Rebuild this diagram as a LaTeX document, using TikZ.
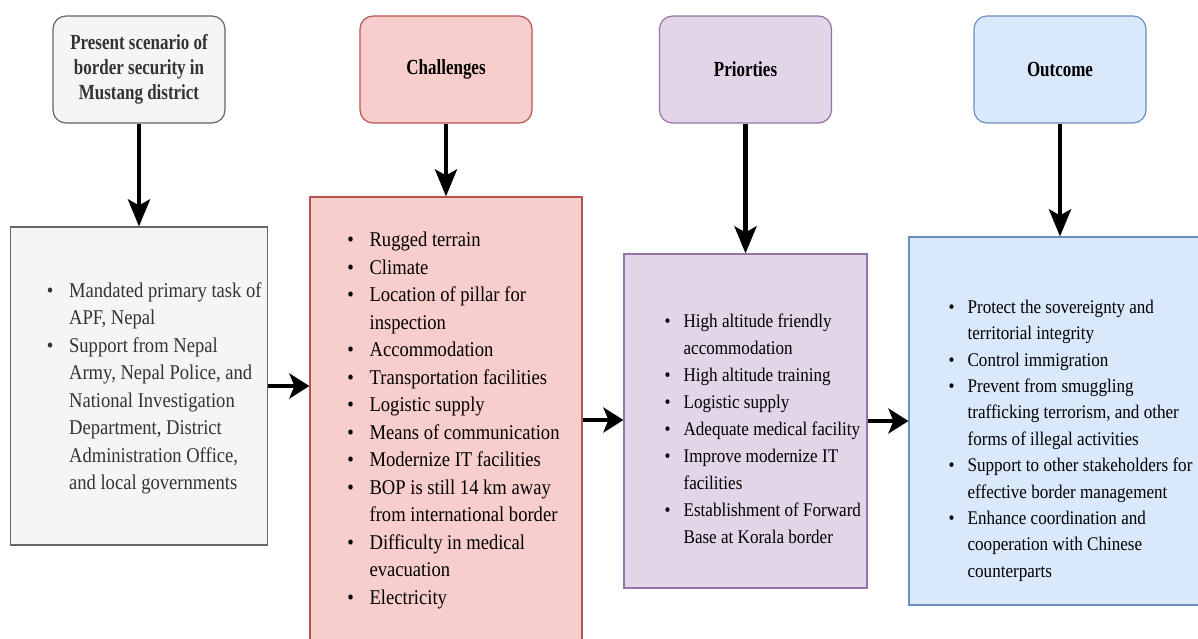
\documentclass[tikz,border=0pt]{standalone}
\usepackage{fontspec}
\setmainfont{Liberation Serif}
\newfontfamily\bodyfont{Liberation Serif}[FakeStretch=0.885]
\newfontfamily\headfont{Liberation Serif}[FakeStretch=0.79]
\usetikzlibrary{arrows.meta,calc}
\definecolor{grayfill}{HTML}{F5F5F5}
\definecolor{graydraw}{HTML}{666666}
\definecolor{graytext}{HTML}{333333}
\definecolor{redfill}{HTML}{F8CECC}
\definecolor{reddraw}{HTML}{B85450}
\definecolor{purfill}{HTML}{E1D5E7}
\definecolor{purdraw}{HTML}{9673A6}
\definecolor{bluefill}{HTML}{DAE8FC}
\definecolor{bluedraw}{HTML}{6C8EBF}
\newlength\bulw
\newcommand\B{\makebox[\bulw][c]{\textbullet}}
\begin{document}
\begin{tikzpicture}[x=1pt,y=-1pt,
  hdr/.style={draw, rounded corners=13pt, minimum width=172pt, minimum height=107pt,
    line width=1.2pt, inner sep=0pt, align=center,
    font={\headfont\bfseries\fontsize{21.5}{25}\selectfont}},
  cbox/.style={draw, line width=1.2pt, inner sep=0pt},
  bigtxt/.style={anchor=west, inner sep=0pt, font={\bodyfont\fontsize{21}{27.5}\selectfont\setlength\bulw{38pt}}},
  purtxt/.style={anchor=west, inner sep=0pt, font={\bodyfont\fontsize{19.3}{27}\selectfont\setlength\bulw{32pt}}},
  bluetxt/.style={anchor=west, inner sep=0pt, font={\bodyfont\fontsize{19.3}{26.4}\selectfont\setlength\bulw{32pt}}},
  varr/.style={line width=4.5pt, -{Stealth[length=27pt,width=22pt,inset=6pt]}},
  harr/.style={line width=4.5pt, -{Stealth[length=20pt,width=25pt,inset=5pt]}}]
\clip (0,0) rectangle (1198,638);
\fill[white] (0,0) rectangle (1198,638);

% headers
\node[hdr, fill=grayfill, draw=graydraw, text=graytext] (h1) at (139,69.5)
  {Present scenario of\\border security in\\Mustang district};
\node[hdr, fill=redfill, draw=reddraw] (h2) at (446,69.5) {Challenges};
\node[hdr, fill=purfill, draw=purdraw] (h3) at (745.5,69.5) {Priorties};
\node[hdr, fill=bluefill, draw=bluedraw] (h4) at (1060,69.5) {Outcome};

% content boxes
\node[cbox, fill=grayfill, draw=graydraw, minimum width=257pt, minimum height=318pt] (c1) at (139,386) {};
\node[cbox, fill=redfill, draw=reddraw, minimum width=272pt, minimum height=446pt] (c2) at (446,420) {};
\node[cbox, fill=purfill, draw=purdraw, minimum width=243pt, minimum height=334pt] (c3) at (745.5,421) {};
\node[cbox, fill=bluefill, draw=bluedraw, minimum width=302pt, minimum height=368pt] (c4) at (1060,421) {};

% texts
\node[bigtxt, text=graytext] (t1) at ([xshift=21pt,yshift=-2pt]c1.west) {%
\begin{tabular}{@{}l@{}l@{}}
\B & Mandated primary task of\\
   & APF, Nepal\\
\B & Support from Nepal\\
   & Army, Nepal Police, and\\
   & National Investigation\\
   & Department, District\\
   & Administration Office,\\
   & and local governments
\end{tabular}};

\node[bigtxt] (t2) at ([xshift=22pt]c2.west) {%
\begin{tabular}{@{}l@{}l@{}}
\B & Rugged terrain\\
\B & Climate\\
\B & Location of pillar for\\
   & inspection\\
\B & Accommodation\\
\B & Transportation facilities\\
\B & Logistic supply\\
\B & Means of communication\\
\B & Modernize IT facilities\\
\B & BOP is still 14 km away\\
   & from international border\\
\B & Difficulty in medical\\
   & evacuation\\
\B & Electricity
\end{tabular}};

\node[purtxt] (t3) at ([xshift=28pt,yshift=-9pt]c3.west) {%
\begin{tabular}{@{}l@{}l@{}}
\B & High altitude friendly\\
   & accommodation\\
\B & High altitude training\\
\B & Logistic supply\\
\B & Adequate medical facility\\
\B & Improve modernize IT\\
   & facilities\\
\B & Establishment of Forward\\
   & Base at Korala border
\end{tabular}};

\node[bluetxt] (t4) at ([xshift=27pt,yshift=-19pt]c4.west) {%
\begin{tabular}{@{}l@{}l@{}}
\B & Protect the sovereignty and\\
   & territorial integrity\\
\B & Control immigration\\
\B & Prevent from smuggling\\
   & trafficking terrorism, and other\\
   & forms of illegal activities\\
\B & Support to other stakeholders for\\
   & effective border management\\
\B & Enhance coordination and\\
   & cooperation with Chinese\\
   & counterparts
\end{tabular}};

% arrows
\draw[varr] (h1.south) -- (c1.north);
\draw[varr] (h2.south) -- (c2.north);
\draw[varr] (h3.south) -- (c3.north);
\draw[varr] (h4.south) -- (c4.north);
\draw[harr] (c1.east) -- (c1.east -| c2.west);
\draw[harr] (c2.east) -- (c2.east -| c3.west);
\draw[harr] (c3.east) -- (c3.east -| c4.west);
\end{tikzpicture}
\end{document}
